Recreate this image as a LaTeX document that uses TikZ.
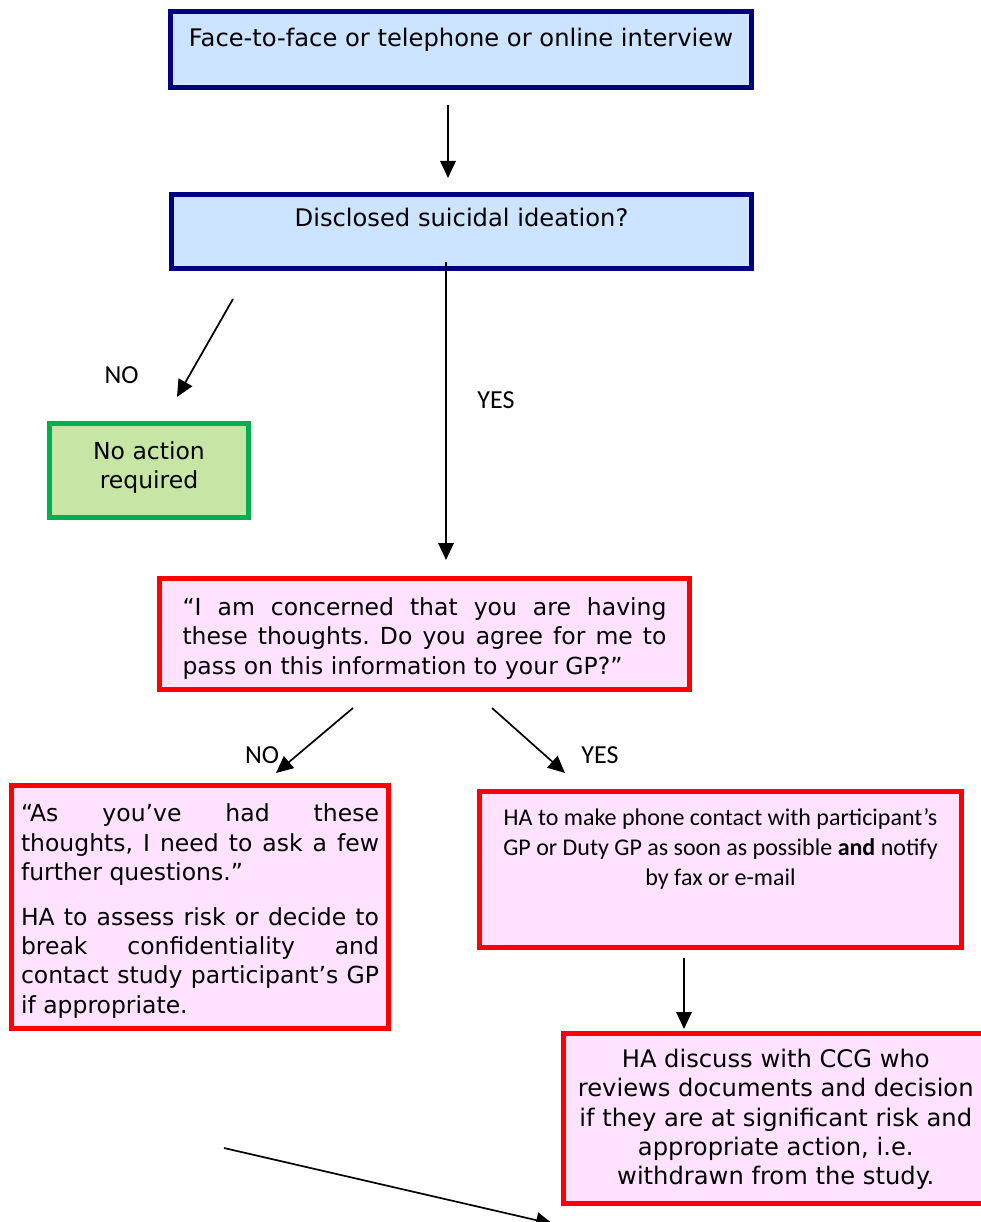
\documentclass[tikz,border=0pt]{standalone}
\usepackage{fontspec}
\setmainfont{DejaVu Sans}
\newfontfamily\calfont{Carlito}
\usetikzlibrary{arrows.meta}
\definecolor{navy}{RGB}{0,0,128}
\definecolor{paleblue}{RGB}{204,228,255}
\definecolor{boxgreen}{RGB}{0,176,80}
\definecolor{palegreen}{RGB}{199,230,165}
\definecolor{palepink}{RGB}{255,226,255}
\hyphenpenalty=10000
\frenchspacing

\begin{document}
\begin{tikzpicture}[x=1pt,y=-1pt,
  box/.style={draw, line width=5pt, inner sep=0pt},
  bluebox/.style={box, draw=navy, fill=paleblue},
  greenbox/.style={box, draw=boxgreen, fill=palegreen},
  redbox/.style={box, draw=red, fill=palepink},
  verd/.style={font=\fontsize{23.5}{29.2}\selectfont},
  verdbig/.style={font=\fontsize{24.2}{29.3}\selectfont},
  cal/.style={font=\calfont\fontsize{24}{30}\selectfont},
  lbl/.style={font=\calfont\fontsize{26}{30}\selectfont, inner sep=0pt},
  txt/.style={inner sep=0pt},
  arr/.style={line width=1.7pt, -{Triangle[length=17pt,width=15.5pt]}}]
\useasboundingbox (0,0) rectangle (981,1222);
\clip (0,0) rectangle (981,1222);

% boxes
\node[bluebox, minimum width=581, minimum height=76] (interview) at (461,49.5) {};
\node[txt, verdbig, anchor=base] (interviewtext) at (461,47) {Face-to-face or telephone or online interview};

\node[bluebox, minimum width=580, minimum height=74] (disclosed) at (461.5,231.5) {};
\node[txt, verdbig, anchor=base] (disclosedtext) at (461.5,227) {Disclosed suicidal ideation?};

\node[greenbox, minimum width=199, minimum height=94] (noaction) at (149,470.5) {};
\node[txt, verd, align=center] (noactiontext) at (149,467.5) {No action\\required};

\node[redbox, minimum width=530, minimum height=111] (concern) at (424.5,634) {};
\node[txt, verd, text width=484, align=justify] (concerntext) at (424.5,638.5)
  {“I am concerned that you are having\linebreak these thoughts. Do you agree for me to\linebreak pass on this information to your GP?”};

\node[redbox, minimum width=377, minimum height=243] (assess) at (200,907) {};
\node[txt, verd, text width=358, align=justify] (assesstext) at (200,911)
  {“As you’ve had these\linebreak thoughts, I need to ask a few\linebreak further questions.”\par\vspace{16pt}
   HA to assess risk or decide to\linebreak break confidentiality and\linebreak contact study participant’s GP\linebreak if appropriate.};

\node[redbox, minimum width=482, minimum height=156] (phone) at (720.5,869.5) {};
\node[txt, cal, align=center, anchor=base] (phonetext) at (720.5,885)
  {HA to make phone contact with participant’s\\GP or Duty GP as soon as possible \textbf{and} notify\\by fax or e-mail};

\node[redbox, minimum width=424.5, minimum height=170] (ccg) at (775.75,1118.5) {};
\node[txt, verdbig, align=center] (ccgtext) at (775.75,1119.5)
  {HA discuss with CCG who\\reviews documents and decision\\if they are at significant risk and\\appropriate action, i.e.\\withdrawn from the study.};

% free-standing connectors
\coordinate (a1s) at (448,105);   \coordinate (a1e) at (448,178);
\coordinate (yss) at (446,262);   \coordinate (yse) at (446,560);
\coordinate (nos) at (233,299);   \coordinate (noe) at (177,397);
\coordinate (n2s) at (353,708);   \coordinate (n2e) at (276,773);
\coordinate (y2s) at (492,708);   \coordinate (y2e) at (565,773);
\coordinate (dns) at (684,958);   \coordinate (dne) at (684,1029);
\coordinate (bts) at (224,1148);  \coordinate (bte) at (553,1224);

\draw[arr] (a1s) -- (a1e);
\draw[arr] (yss) -- (yse);
\draw[arr] (nos) -- (noe);
\draw[arr] (n2s) -- (n2e);
\draw[arr] (y2s) -- (y2e);
\draw[arr] (dns) -- (dne);
\draw[arr] (bts) -- (bte);

% branch labels
\node[lbl] (nolbl) at (121.5,375) {NO};
\node[lbl] (yeslbl) at (496,400) {YES};
\node[lbl] (no2lbl) at (262,755) {NO};
\node[lbl] (yes2lbl) at (600,755) {YES};
\end{tikzpicture}
\end{document}
